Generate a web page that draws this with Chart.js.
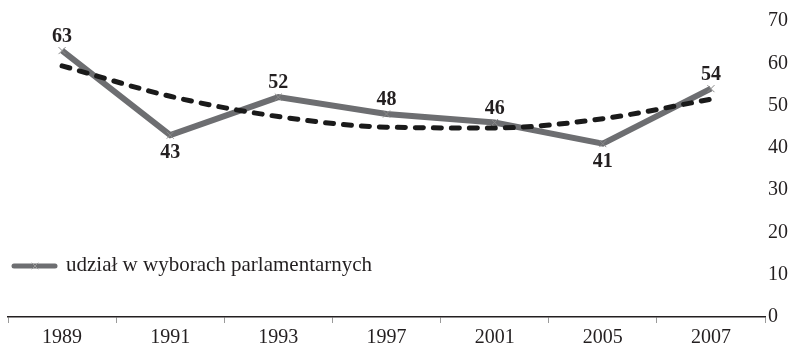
<!DOCTYPE html>
<html>
<head>
<meta charset="utf-8">
<script src="https://cdn.jsdelivr.net/npm/chart.js@4/dist/chart.umd.min.js"></script>
<style>
  html, body { margin: 0; padding: 0; background: #ffffff; }
  #wrap { width: 798px; height: 346px; }
</style>
</head>
<body>
<div id="wrap"><canvas id="c" width="798" height="346"></canvas></div>
<script>
// Frekwencja w wyborach parlamentarnych (%) i linia trendu
const years = ['1989', '1991', '1993', '1997', '2001', '2005', '2007'];
const turnout = [63, 43, 52, 48, 46, 41, 54];
const trend = [59.4, 52.2, 47.4, 44.9, 44.7, 46.9, 51.5];
const labelBelow = [false, true, false, false, false, true, false];
const legendText = 'udział w wyborach parlamentarnych';

const SERIF = '"Liberation Serif", "DejaVu Serif", serif';
const GREY = '#6d6e71';

// value labels above / below the turnout points
const valueLabels = {
  id: 'valueLabels',
  afterDatasetsDraw(chart) {
    const ctx = chart.ctx;
    const meta = chart.getDatasetMeta(0);
    ctx.save();
    ctx.font = 'bold 20px ' + SERIF;
    ctx.fillStyle = '#231f20';
    ctx.textAlign = 'center';
    meta.data.forEach((pt, i) => {
      if (labelBelow[i]) {
        ctx.textBaseline = 'top';
        ctx.fillText(String(turnout[i]), pt.x, pt.y + 8);
      } else {
        ctx.textBaseline = 'bottom';
        ctx.fillText(String(turnout[i]), pt.x, pt.y - 4);
      }
    });
    ctx.restore();
  }
};

// legend drawn inside the plot area, lower left
const innerLegend = {
  id: 'innerLegend',
  afterDraw(chart) {
    const ctx = chart.ctx;
    const y = 266;
    ctx.save();
    ctx.strokeStyle = GREY;
    ctx.lineWidth = 5;
    ctx.lineCap = 'round';
    ctx.beginPath();
    ctx.moveTo(14, y);
    ctx.lineTo(55, y);
    ctx.stroke();
    ctx.lineWidth = 1;
    ctx.strokeStyle = '#9a9a9a';
    ctx.beginPath();
    ctx.moveTo(32, y - 3); ctx.lineTo(38, y + 3);
    ctx.moveTo(38, y - 3); ctx.lineTo(32, y + 3);
    ctx.stroke();
    ctx.font = '21px ' + SERIF;
    ctx.fillStyle = '#231f20';
    ctx.textAlign = 'left';
    ctx.textBaseline = 'middle';
    ctx.fillText(legendText, 66, y - 1);
    ctx.restore();
  }
};

new Chart(document.getElementById('c'), {
  type: 'line',
  data: {
    labels: years,
    datasets: [
      {
        label: legendText,
        data: turnout,
        borderColor: GREY,
        borderWidth: 6,
        tension: 0,
        pointStyle: 'crossRot',
        pointRadius: 5,
        pointBorderWidth: 1,
        pointBorderColor: '#8a8a8a',
        pointBackgroundColor: GREY,
        order: 2
      },
      {
        label: 'trend',
        data: trend,
        borderColor: '#1a1a1a',
        borderWidth: 5,
        borderDash: [8, 10],
        borderCapStyle: 'round',
        tension: 0.4,
        cubicInterpolationMode: 'monotone',
        pointRadius: 0,
        order: 1
      }
    ]
  },
  options: {
    responsive: false,
    animation: false,
    layout: { padding: { left: 8, right: 0, top: 21, bottom: 0 } },
    plugins: {
      legend: { display: false },
      tooltip: { enabled: false }
    },
    scales: {
      x: {
        offset: true,
        border: { display: true, color: '#231f20', width: 1.5 },
        grid: {
          offset: true,
          drawOnChartArea: false,
          drawTicks: true,
          tickLength: 6,
          color: '#9a9a9a'
        },
        ticks: {
          color: '#231f20',
          font: { family: SERIF, size: 20 },
          padding: 3
        },
        afterFit(s) { s.height = 29; }
      },
      y: {
        position: 'right',
        min: 0,
        max: 70,
        border: { display: false },
        grid: { display: false, drawTicks: false },
        ticks: {
          stepSize: 10,
          color: '#231f20',
          font: { family: SERIF, size: 20 },
          padding: 3
        },
        afterFit(s) { s.width = 33; }
      }
    }
  },
  plugins: [valueLabels, innerLegend]
});
</script>
</body>
</html>
